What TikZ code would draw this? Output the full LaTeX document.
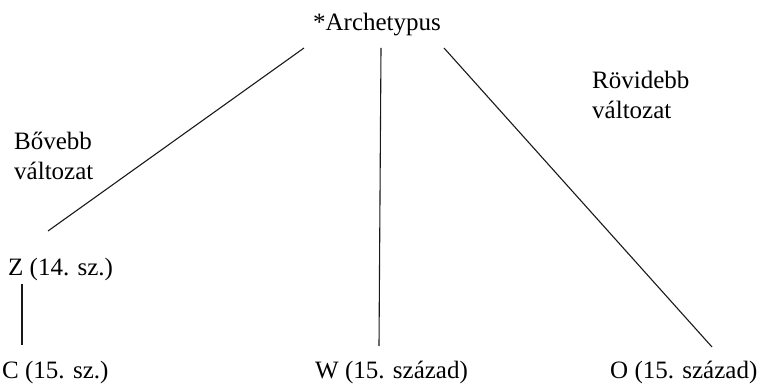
\documentclass[tikz,border=0pt]{standalone}
\usepackage{fontspec}
\setmainfont{Liberation Serif}
\begin{document}
\begin{tikzpicture}[x=1pt,y=-1pt,
  lbl/.style={inner sep=0pt,anchor=base west,font=\fontsize{25}{30}\selectfont,align=left},
  edge/.style={line width=1.1pt,black!90}]
\useasboundingbox (0,0) rectangle (760,387);
\node[lbl,anchor=base] (arch) at (377,31) {*Archetypus};
\node[lbl] (bov) at (14,180) {Bővebb\\változat};
\node[lbl] (rov) at (592,119) {Rövidebb\\változat};
\node[lbl] (z) at (8,276) {Z (14. sz.)};
\node[lbl] (c) at (2,378) {C (15. sz.)};
\node[lbl] (w) at (315,378) {W (15. század)};
\node[lbl] (o) at (610,378) {O (15. század)};
\coordinate (a1) at (304,48);
\coordinate (a2) at (381,48);
\coordinate (a3) at (444,48);
\coordinate (zt) at (48,231);
\coordinate (zb) at (22,284);
\coordinate (ct) at (22,345);
\coordinate (wt) at (379,346);
\coordinate (ot) at (712,347);
\draw[edge] (a1) -- (zt);
\draw[edge] (a2) -- (wt);
\draw[edge] (a3) -- (ot);
\draw[edge] (zb) -- (ct);
\end{tikzpicture}
\end{document}
